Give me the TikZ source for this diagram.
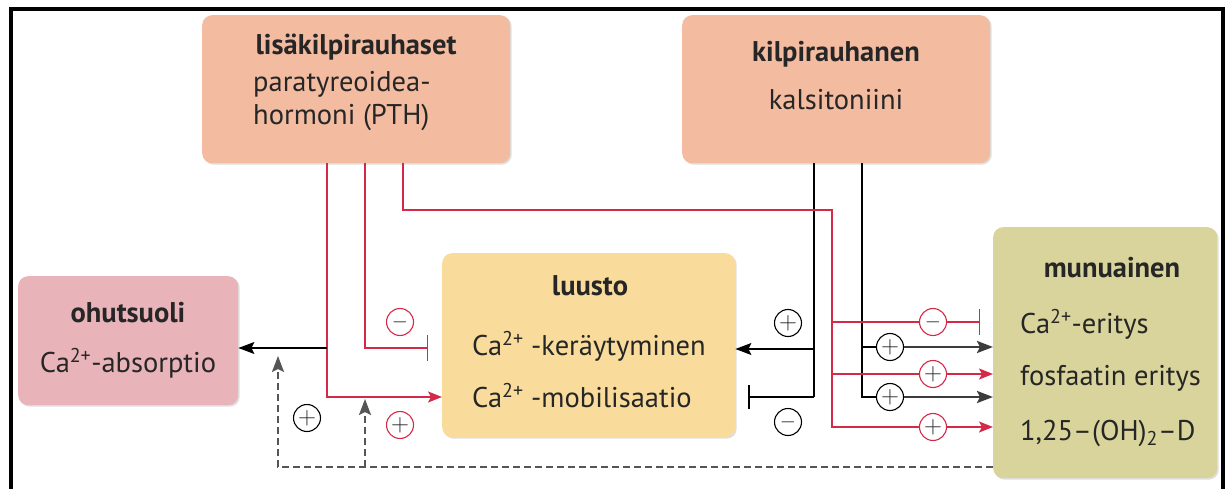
\documentclass[tikz,border=0pt]{standalone}
\usepackage{fontspec}
\setmainfont{PT Sans}
\usetikzlibrary{arrows.meta,shadows}
\definecolor{salmon}{HTML}{F3BBA0}
\definecolor{pinkbox}{HTML}{E8B3B9}
\definecolor{bonebox}{HTML}{F9DC9C}
\definecolor{kidbox}{HTML}{D9D49B}
\definecolor{myred}{HTML}{D42A47}
\definecolor{darkg}{HTML}{3C3C3C}
\definecolor{dashg}{HTML}{555555}
\begin{document}
\begin{tikzpicture}[x=1pt,y=-1pt,
  box/.style={draw=none,rounded corners=10pt,anchor=north west,inner sep=0pt,
    drop shadow={shadow xshift=1.5pt,shadow yshift=-1.5pt,opacity=0.25}},
  ttl/.style={font=\fontsize{28.5}{32}\selectfont\bfseries,anchor=base,inner sep=0pt,text=black!85},
  txtl/.style={font=\fontsize{28.5}{32}\selectfont,anchor=base west,inner sep=0pt,text=black!85},
  txtc/.style={font=\fontsize{28.5}{32}\selectfont,anchor=base,inner sep=0pt,text=black!85},
  rl/.style={draw=myred,line width=1.3pt},
  bl/.style={draw=black,line width=1.3pt},
  tg/.style={draw=darkg,line width=2.6pt},
  dsh/.style={draw=dashg,line width=1.8pt,dash pattern=on 7pt off 4pt},
  sgn/.style={circle,fill=white,line width=1.1pt,minimum size=27pt,inner sep=0pt,
    text=black!85},
  pls/.style={font=\fontsize{27}{27}\selectfont},
  mns/.style={font=\fontsize{20}{20}\selectfont},
  rsg/.style={sgn,draw=myred},
  bsg/.style={sgn,draw=black},
  rarr/.style={-{Stealth[length=14pt,width=11pt,inset=3pt]}},
  barr/.style={-{Stealth[length=16pt,width=12pt,inset=3pt]}},
  rbar/.style={-{Bar[width=26pt,line width=1.5pt]}},
]
\useasboundingbox (0,0) rectangle (1231,489);
\fill[white] (0,0) rectangle (1231,489);
% frame
\draw[line width=4pt] (10.5,489) -- (10.5,9) -- (1223,9) -- (1223,489);

% boxes
\node[box,fill=salmon,minimum width=308pt,minimum height=148pt] (pth) at (202,15) {};
\node[box,fill=salmon,minimum width=308pt,minimum height=148pt] (kal) at (682,15) {};
\node[box,fill=pinkbox,minimum width=220pt,minimum height=129pt] (ohut) at (18,276) {};
\node[box,fill=bonebox,minimum width=293pt,minimum height=184pt] (luusto) at (442,253) {};
\node[box,fill=kidbox,minimum width=224pt,minimum height=251pt] (munu) at (993,227) {};

% texts
\node[ttl] (t1) at (356,55) {lisäkilpirauhaset};
\node[txtl] (t2) at (253,92) {paratyreoidea-};
\node[txtl] (t3) at (253,125) {hormoni (PTH)};
\node[ttl] (t4) at (836,62) {kilpirauhanen};
\node[txtc] (t5) at (836,110) {kalsitoniini};
\node[ttl] (t6) at (128,322) {ohutsuoli};
\node[txtc] (t7) at (128,372) {Ca\textsuperscript{2+}-absorptio};
\node[ttl] (t8) at (590,295) {luusto};
\node[txtl] (t9) at (472,355) {Ca\textsuperscript{2+} -keräytyminen};
\node[txtl] (t10) at (472,407) {Ca\textsuperscript{2+} -mobilisaatio};
\node[ttl] (t11) at (1112,277) {munuainen};
\node[txtl] (t12) at (1020,333) {Ca\textsuperscript{2+}-eritys};
\node[txtl] (t13) at (1020,385) {fosfaatin eritys};
\node[txtl] (t14) at (1020,440) {1,25–(OH)\textsubscript{2}–D};

% sign circles
\node[rsg,mns] (rc1) at (933,322) {$-$};
\node[rsg,pls] (rc2) at (933,374) {$+$};
\node[rsg,pls] (rc3) at (933,427) {$+$};
\node[rsg,mns] (rc4) at (400,322) {$-$};
\node[rsg,pls] (rc5) at (400,425) {$+$};
\node[bsg,pls] (bc1) at (788,323) {$+$};
\node[bsg,mns] (bc2) at (788,422) {$-$};
\node[bsg,pls] (bc3) at (890,347) {$+$};
\node[bsg,pls] (bc4) at (890,397) {$+$};
\node[bsg,pls] (bc5) at (307,418) {$+$};

% coordinates
\coordinate (pA) at (327,163);
\coordinate (jA1) at (327,348);
\coordinate (jA2) at (327,397);
\coordinate (pB) at (365,163);
\coordinate (jB) at (365,348);
\coordinate (bB) at (428,348);
\coordinate (pC) at (403,163);
\coordinate (cC1) at (403,210);
\coordinate (cC2) at (832,210);
\coordinate (jC1) at (832,322);
\coordinate (jC2) at (832,374);
\coordinate (jC3) at (832,427);
\coordinate (bC) at (980,322);
\coordinate (kD) at (814,163);
\coordinate (jD1) at (814,349);
\coordinate (jD2) at (814,397);
\coordinate (bD) at (748,397);
\coordinate (kE) at (862,163);
\coordinate (jE1) at (862,347);
\coordinate (jE2) at (862,397);
\coordinate (dA) at (278,467);
\coordinate (dAt) at (278,356);
\coordinate (dB) at (365,467);
\coordinate (dBt) at (365,399);

% calcitonin lines (black)
\draw[bl] (kD) -- (jD2);
\draw[bl,-{Bar[width=24pt,line width=1.5pt]}] (jD2) -- (bD);
\draw[bl,barr] (jD1) -- (luusto.east |- jD1);
\draw[bl] (kE) -- (jE2) -- (bc4);
\draw[bl] (jE1) -- (bc3);
\draw[tg,barr] (bc3) -- (munu.west |- bc3);
\draw[tg,barr] (bc4) -- (munu.west |- bc4);

% PTH lines (red)
\draw[rl,rarr] (pA) -- (jA2) -- (luusto.west |- jA2);
\draw[bl,barr] (jA1) -- (ohut.east |- jA1);
\draw[rl,rbar] (pB) -- (jB) -- (bB);
\draw[rl] (pC) -- (cC1) -- (cC2) -- (jC3) -- (rc3);
\draw[rl] (jC1) -- (rc1);
\draw[rl,rbar] (rc1) -- (bC);
\draw[rl] (jC2) -- (rc2);
\draw[rl,rarr] (rc2) -- (munu.west |- rc2);
\draw[rl,rarr] (rc3) -- (munu.west |- rc3);

% dashed feedback
\draw[dsh,barr] (munu.west |- dA) -- (dA) -- (dAt);
\draw[dsh,barr] (dB) -- (dBt);
\end{tikzpicture}
\end{document}
